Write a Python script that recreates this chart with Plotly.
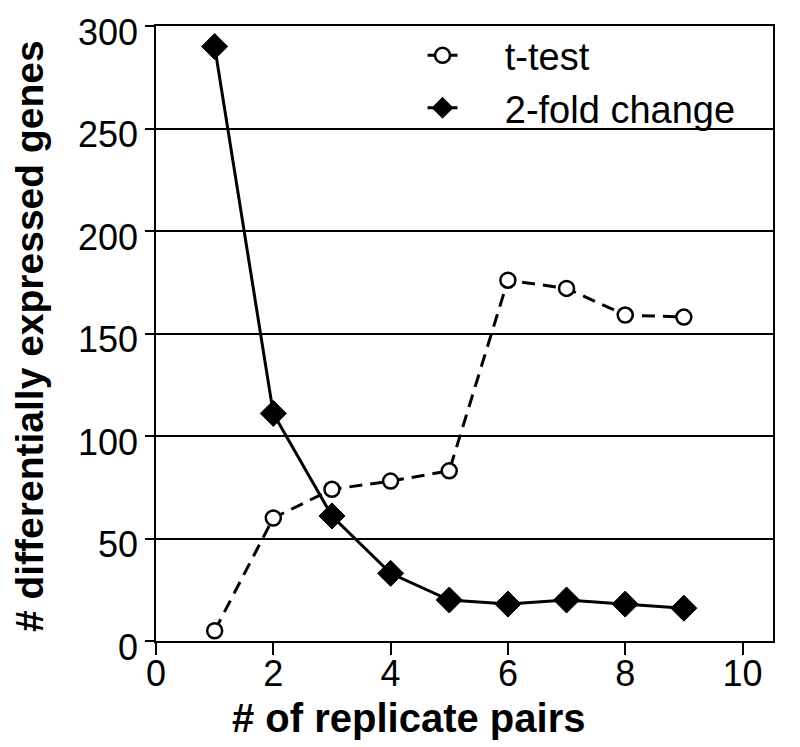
import plotly.graph_objects as go

replicate_pairs = [1, 2, 3, 4, 5, 6, 7, 8, 9]
t_test = [5, 60, 74, 78, 83, 176, 172, 159, 158]
two_fold = [290, 111, 61, 33, 20, 18, 20, 18, 16]

x_ticks = [0, 2, 4, 6, 8, 10]
y_ticks = [0, 50, 100, 150, 200, 250, 300]

FONT = "Liberation Sans, Arial, sans-serif"
PAD = "\u00a0" * 4

fig = go.Figure()
fig.add_trace(go.Scatter(
    x=replicate_pairs, y=t_test, mode="lines+markers", name=PAD + "t-test",
    line=dict(color="black", width=3, dash="13px,8px"),
    marker=dict(symbol="circle", size=15, color="white", line=dict(color="black", width=2.5)),
))
fig.add_trace(go.Scatter(
    x=replicate_pairs, y=two_fold, mode="lines+markers", name=PAD + "2-fold change",
    line=dict(color="black", width=3),
    marker=dict(symbol="diamond", size=20, color="black", line=dict(color="black", width=1)),
))

fig.update_layout(
    width=800, height=747,
    margin=dict(l=148, r=35, t=18, b=114, autoexpand=False),
    plot_bgcolor="white", paper_bgcolor="white",
    font=dict(family=FONT, color="black", size=36),
    legend=dict(x=0.432, y=1.003, xanchor="left", yanchor="top",
                bgcolor="rgba(0,0,0,0)", font=dict(size=38)),
    showlegend=True,
    xaxis=dict(range=[0, 10.52], tickvals=x_ticks, showgrid=False, zeroline=False,
               showline=True, linecolor="black", linewidth=1.5, mirror=True,
               ticks="outside", ticklen=12, tickwidth=1.5, tickcolor="black",
               tickfont=dict(size=36), automargin=False, ticklabelstandoff=-12),
    yaxis=dict(range=[0, 300], tickvals=y_ticks, showgrid=True, gridcolor="black",
               gridwidth=1.5, zeroline=False,
               showline=True, linecolor="black", linewidth=1.5, mirror=True,
               ticks="outside", ticklen=9, tickwidth=1.5, tickcolor="black",
               tickfont=dict(size=36), automargin=False, ticklabeloverflow="allow",
               ticklabelshift=6),
    annotations=[
        dict(text="<b># of replicate pairs</b>", xref="paper", yref="paper",
             x=0.41, y=-0.125, xanchor="center", yanchor="middle", showarrow=False,
             font=dict(size=40)),
        dict(text="<b># differentially expressed genes</b>", xref="paper", yref="paper",
             x=-0.205, y=0.495, xanchor="center", yanchor="middle", showarrow=False,
             textangle=-90, font=dict(size=39)),
    ],
)

fig.write_html("out.html")
